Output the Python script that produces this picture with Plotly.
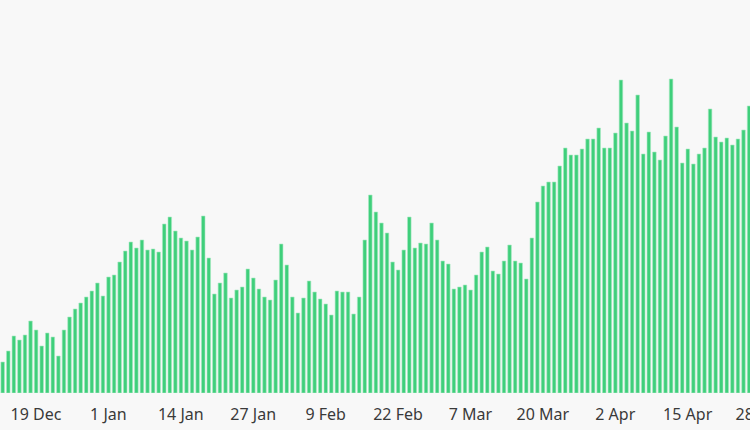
import pandas as pd
import plotly.graph_objects as go

start_date = "2020-12-13"
values = [
    31, 42, 57, 53, 58, 72, 63, 47, 60, 56,
    37, 63, 76, 84, 90, 96, 102, 110, 97, 116,
    118, 131, 142, 151, 145, 153, 143, 144, 141, 169,
    176, 162, 155, 152, 143, 156, 177, 135, 99, 110,
    120, 95, 103, 106, 124, 115, 104, 96, 93, 113,
    149, 128, 96, 80, 95, 112, 101, 94, 89, 78,
    102, 101, 101, 79, 96, 153, 198, 181, 170, 160,
    131, 123, 143, 176, 145, 150, 149, 170, 153, 132,
    129, 104, 106, 108, 103, 118, 141, 146, 122, 119,
    132, 148, 132, 130, 114, 155, 191, 207, 211, 211,
    227, 245, 238, 238, 244, 254, 254, 265, 245, 245,
    260, 313, 270, 262, 298, 239, 261, 241, 233, 257,
    314, 266, 230, 244, 229, 239, 245, 284, 256, 251,
    255, 248, 254, 263, 287,
]
tick_labels = ["19 Dec", "1 Jan", "14 Jan", "27 Jan", "9 Feb", "22 Feb",
               "7 Mar", "20 Mar", "2 Apr", "15 Apr", "28 Apr"]
tick_dates = ["2020-12-19", "2021-01-01", "2021-01-14", "2021-01-27", "2021-02-09",
              "2021-02-22", "2021-03-07", "2021-03-20", "2021-04-02", "2021-04-15",
              "2021-04-28"]

dates = pd.date_range(start_date, periods=len(values), freq="D")

# place tick anchors two days earlier and shift labels back by two day-widths,
# so the last (partly cropped) label is still drawn
px_per_day = 750 / 134.65
tick_anchor = [pd.Timestamp(d) - pd.Timedelta(days=2) for d in tick_dates]

fig = go.Figure(go.Bar(
    x=dates, y=values,
    marker=dict(color="#3fcf7b", line=dict(width=0.6, color="#a8e9c2")),
    hoverinfo="skip",
))

x0 = dates[0] - pd.Timedelta(hours=11.6)
x1 = x0 + pd.Timedelta(days=134.65)

fig.update_layout(
    width=750, height=430,
    margin=dict(l=0, r=0, t=0, b=37),
    paper_bgcolor="#f8f8f8", plot_bgcolor="#f8f8f8",
    bargap=0.36,
    showlegend=False,
    font=dict(family="Noto Sans", size=16, color="#3a3a3a"),
    xaxis=dict(
        type="date",
        range=[x0, x1],
        tickmode="array",
        tickvals=tick_anchor,
        ticktext=tick_labels,
        ticklabelshift=int(round(2 * px_per_day)),
        ticklabeloverflow="allow",
        automargin=False,
        showgrid=False, zeroline=False, showline=False,
        ticks="", ticklabelstandoff=10,
        fixedrange=True,
    ),
    yaxis=dict(range=[0, 393], visible=False, fixedrange=True, automargin=False),
)

fig.write_html(
    "out.html",
    config={"displayModeBar": False},
    post_script="document.body.style.margin='0';document.body.style.overflow='hidden';",
)
